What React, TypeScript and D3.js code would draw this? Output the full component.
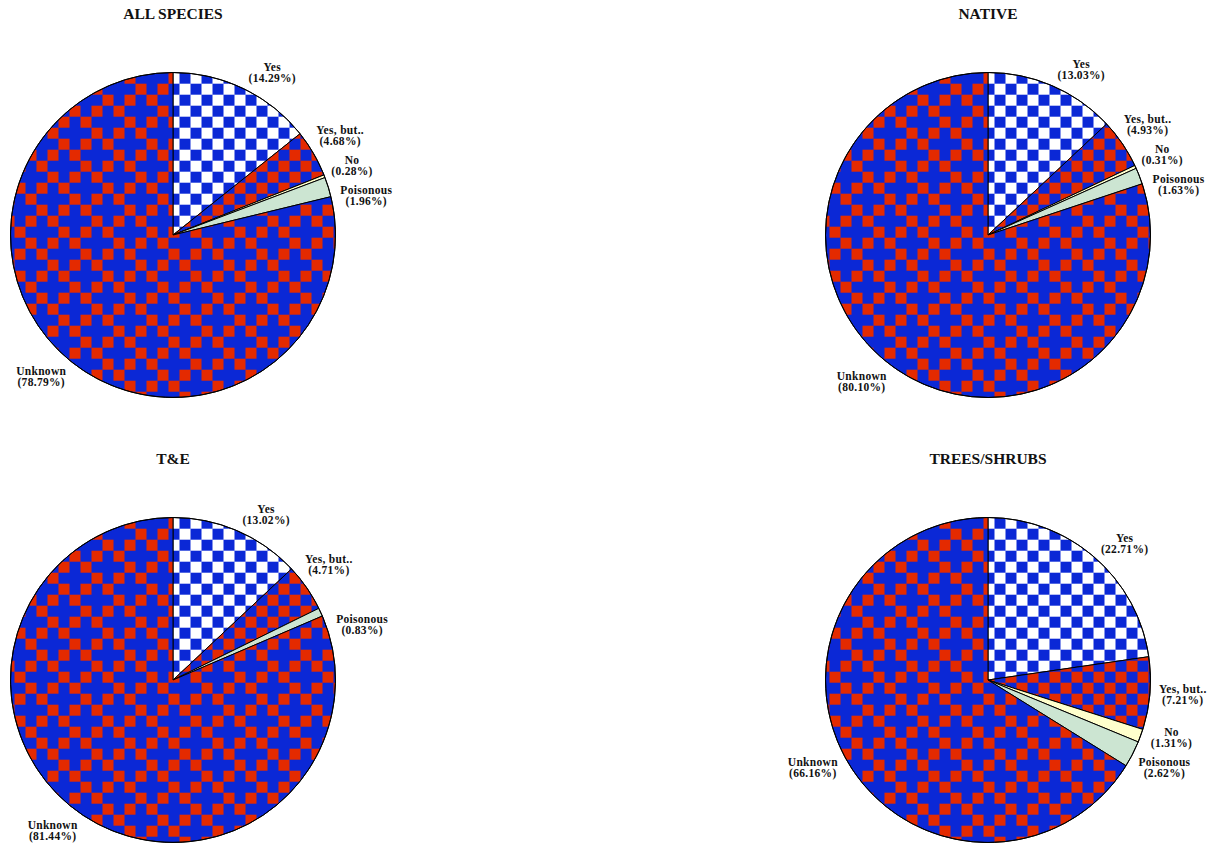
import React from 'react';
import * as d3 from 'd3';

// Chart content
const TITLES = ['ALL SPECIES', 'NATIVE', 'T&E', 'TREES/SHRUBS'];
const CATEGORIES = ['Yes', 'Yes, but..', 'No', 'Poisonous', 'Unknown'];
const allSpecies = [14.29, 4.68, 0.28, 1.96, 78.79];
const native = [13.03, 4.93, 0.31, 1.63, 80.1];
const tAndE = [13.02, 4.71, 0, 0.83, 81.44];
const treesShrubs = [22.71, 7.21, 1.31, 2.62, 66.16];
const SERIES = [allSpecies, native, tAndE, treesShrubs];

// Appearance
const W = 1211;
const H = 848;
const RADIUS = 162.5;
const BLUE = '#0b28d6';
const RED = '#e42a00';
const CELL = 11;
const FONT = "'Liberation Serif', 'Times New Roman', serif";
const LABEL_SIZE = 11.5;
const LINE_GAP = 11;
const LABEL_SPACING = 30;

// Red cells of the "Unknown" tile (8x8 cells), a thinned checkerboard
const UNKNOWN_MASK = [
  '..R.R.R.',
  '.R.R...R',
  'R...R.R.',
  '.R.R.R..',
  'R.R...R.',
  '...R.R.R',
  'R.R.R...',
  '.R...R.R',
];

const FILLS = ['url(#pYes)', 'url(#pYesBut)', '#ffffcc', '#cce5d2', 'url(#pUnknown)'];

let measureCtx: CanvasRenderingContext2D | null = null;
function textWidth(s: string): number {
  if (!measureCtx) {
    const c = document.createElement('canvas');
    measureCtx = c.getContext('2d');
  }
  if (!measureCtx) return s.length * 6;
  measureCtx.font = `bold ${LABEL_SIZE}px ${FONT}`;
  return measureCtx.measureText(s).width + s.length * 0.3;
}

type Label = {
  name: string;
  text: string;
  value: number;
  side: number;
  half: number;
  x: number;
  y: number;
};

function layoutLabels(arcs: d3.PieArcDatum<number>[], cx: number, cy: number, r: number): Label[] {
  const R = r + 7;
  const labels: Label[] = arcs.map((a, i) => {
    const th = (a.startAngle + a.endAngle) / 2;
    const s = Math.sin(th);
    const c = Math.cos(th);
    const side = s >= 0 ? 1 : -1;
    const text = `(${a.data.toFixed(2)}%)`;
    const half = Math.max(textWidth(CATEGORIES[i]), textWidth(text)) / 2 + 2;
    return {
      name: CATEGORIES[i],
      text,
      value: a.data,
      side,
      half,
      x: 0,
      y: cy - (R + LINE_GAP) * c,
    };
  });
  // spread overlapping labels vertically, per side
  for (const side of [1, -1]) {
    const group = labels.filter((l) => l.side === side).sort((a, b) => a.y - b.y);
    for (let it = 0; it < 200; it++) {
      let moved = false;
      for (let i = 0; i < group.length - 1; i++) {
        const gap = group[i + 1].y - group[i].y;
        if (gap < LABEL_SPACING - 0.01) {
          const d = (LABEL_SPACING - gap) / 2;
          group[i].y -= d;
          group[i + 1].y += d;
          moved = true;
        }
      }
      if (!moved) break;
    }
  }
  for (const l of labels) {
    const cosPhi = Math.max(-1, Math.min(1, (cy - l.y) / (R + LINE_GAP)));
    const sinPhi = Math.sqrt(1 - cosPhi * cosPhi);
    l.x = cx + l.side * (R * sinPhi + l.half);
  }
  return labels;
}

function PieChart({ title, values, cx, cy }: { title: string; values: number[]; cx: number; cy: number }) {
  const pie = d3.pie<number>().sort(null).value((d) => d).startAngle(0).endAngle(2 * Math.PI);
  const arcs = pie(values);
  const arc = d3.arc<d3.PieArcDatum<number>>().innerRadius(0).outerRadius(RADIUS);
  const labels = layoutLabels(arcs, cx, cy, RADIUS);
  return (
    <g>
      <text
        x={cx}
        y={cy - 216}
        textAnchor="middle"
        fontFamily={FONT}
        fontWeight="bold"
        fontSize={15.5}
        fill="#111"
      >
        {title}
      </text>
      <g transform={`translate(${cx},${cy})`}>
        {arcs.map((a, i) =>
          a.data > 0 ? (
            <path
              key={i}
              d={arc(a) || ''}
              fill={FILLS[i]}
              stroke="#000"
              strokeWidth={1}
              strokeLinejoin="round"
            />
          ) : null
        )}
        <circle r={RADIUS} fill="none" stroke="#000" strokeWidth={1} />
      </g>
      {labels.map((l, i) =>
        l.value > 0 ? (
          <text
            key={i}
            textAnchor="middle"
            fontFamily={FONT}
            fontWeight="bold"
            fontSize={LABEL_SIZE}
            letterSpacing={0.3}
            fill="#111"
          >
            <tspan x={l.x} y={l.y - 1.5}>
              {l.name}
            </tspan>
            <tspan x={l.x} y={l.y - 1.5 + LINE_GAP}>
              {l.text}
            </tspan>
          </text>
        ) : null
      )}
    </g>
  );
}

export default function App() {
  const col = d3.scalePoint<number>().domain([0, 1]).range([173, 988]);
  const row = d3.scalePoint<number>().domain([0, 1]).range([235, 680]);
  const unknownCells: { i: number; j: number }[] = [];
  UNKNOWN_MASK.forEach((line, j) =>
    line.split('').forEach((ch, i) => {
      if (ch === 'R') unknownCells.push({ i, j });
    })
  );
  return (
    <svg
      width={W}
      height={H}
      viewBox={`0 0 ${W} ${H}`}
      style={{ position: 'absolute', left: 0, top: 0, background: '#fff' }}
    >
      <defs>
        <pattern id="pYes" patternUnits="userSpaceOnUse" x={6.5} y={2.7} width={CELL * 2} height={CELL * 2}>
          <rect width={CELL * 2} height={CELL * 2} fill={BLUE} />
          <rect width={CELL} height={CELL} fill="#fff" />
          <rect x={CELL} y={CELL} width={CELL} height={CELL} fill="#fff" />
        </pattern>
        <pattern id="pYesBut" patternUnits="userSpaceOnUse" x={6.5} y={2.7} width={CELL * 2} height={CELL * 2}>
          <rect width={CELL * 2} height={CELL * 2} fill={BLUE} />
          <rect width={CELL} height={CELL} fill={RED} />
          <rect x={CELL} y={CELL} width={CELL} height={CELL} fill={RED} />
        </pattern>
        <pattern id="pUnknown" patternUnits="userSpaceOnUse" x={6.5} y={2.7} width={CELL * 8} height={CELL * 8}>
          <rect width={CELL * 8} height={CELL * 8} fill={BLUE} />
          {unknownCells.map((c, k) => (
            <rect key={k} x={c.i * CELL} y={c.j * CELL} width={CELL} height={CELL} fill={RED} />
          ))}
        </pattern>
      </defs>
      <rect width={W} height={H} fill="#fff" />
      {SERIES.map((vals, k) => (
        <PieChart key={k} title={TITLES[k]} values={vals} cx={col(k % 2)!} cy={row(Math.floor(k / 2))!} />
      ))}
    </svg>
  );
}
